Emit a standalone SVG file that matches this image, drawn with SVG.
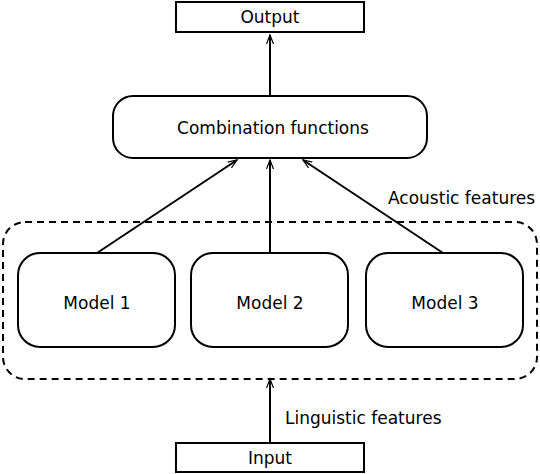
<svg xmlns="http://www.w3.org/2000/svg" width="540" height="474" viewBox="0 0 540 474">
<style>
.box{fill:#fff;stroke:#000;stroke-width:2}
.t{font-family:"DejaVu Sans",sans-serif;font-size:17px;fill:#000}
.c{text-anchor:middle}
.e{stroke:#000;stroke-width:2;fill:none;marker-end:url(#ah)}
</style>
<defs>
<marker id="ah" markerWidth="12" markerHeight="10" refX="9" refY="4" orient="auto" markerUnits="userSpaceOnUse">
<path d="M0,0.5 L9,4 L0,7.5 M1,4 L9,4" fill="none" stroke="#000" stroke-width="1.2"/>
</marker>
</defs>
<rect width="540" height="474" fill="#fff"/>
<g id="group">
<rect x="3" y="222" width="534" height="157" rx="22" fill="none" stroke="#000" stroke-width="2" stroke-dasharray="7,5"/>
<text class="t" x="388" y="204">Acoustic features</text>
</g>
<g id="connectors">
<line class="e" x1="270" y1="96" x2="270" y2="35"/>
<line class="e" x1="270" y1="253" x2="270" y2="160"/>
<line class="e" x1="97" y1="253" x2="237" y2="160"/>
<line class="e" x1="443" y1="253" x2="303" y2="160"/>
<line class="e" x1="270" y1="443" x2="270" y2="379"/>
<text class="t" x="285" y="424">Linguistic features</text>
</g>
<g id="output">
<rect class="box" x="176" y="2" width="188" height="30"/>
<text class="t c" x="270" y="23">Output</text>
</g>
<g id="combination">
<rect class="box" x="113" y="96" width="314" height="62" rx="20"/>
<text class="t c" x="273" y="134">Combination functions</text>
</g>
<g id="model1">
<rect class="box" x="18" y="253" width="157" height="94" rx="22"/>
<text class="t c" x="97" y="309">Model 1</text>
</g>
<g id="model2">
<rect class="box" x="191" y="253" width="157" height="94" rx="22"/>
<text class="t c" x="270" y="309">Model 2</text>
</g>
<g id="model3">
<rect class="box" x="366" y="253" width="157" height="94" rx="22"/>
<text class="t c" x="445" y="309">Model 3</text>
</g>
<g id="input">
<rect class="box" x="176" y="443" width="188" height="29"/>
<text class="t c" x="270" y="464">Input</text>
</g>
</svg>
